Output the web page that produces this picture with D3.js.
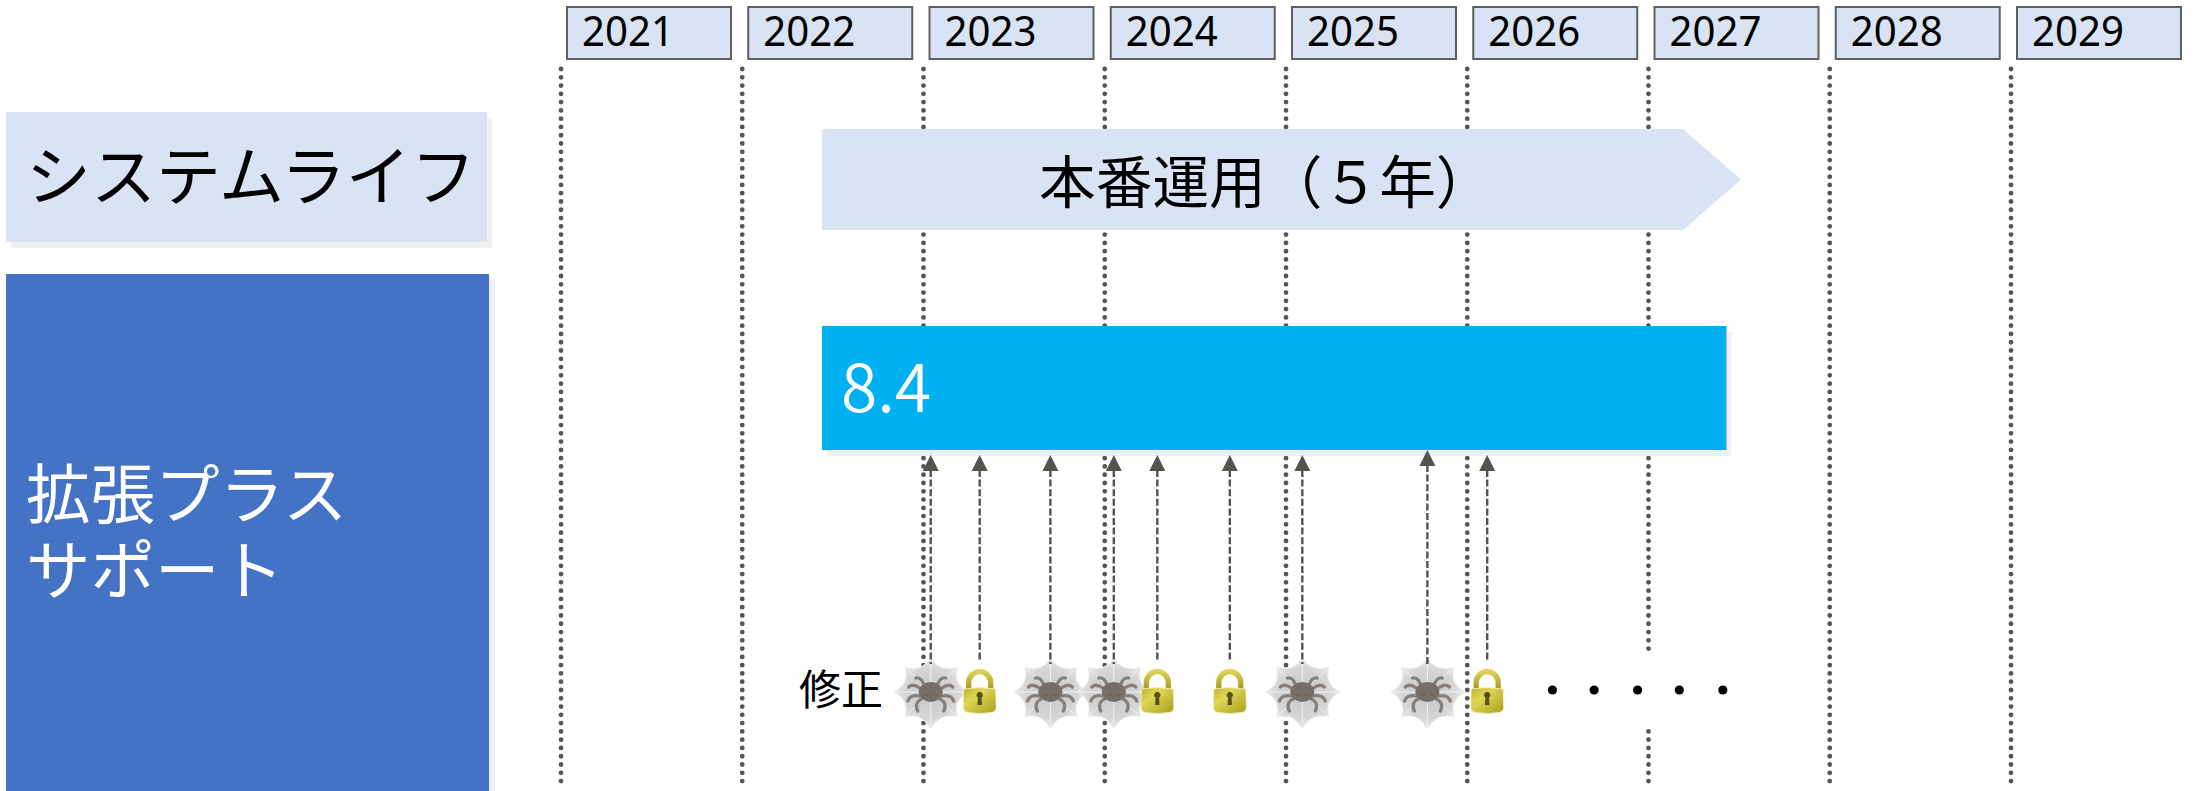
<!DOCTYPE html>
<html lang="ja">
<head>
<meta charset="utf-8">
<script src="https://cdn.jsdelivr.net/npm/d3@7/dist/d3.min.js"></script>
<style>
html,body{margin:0;padding:0;background:#fff}
svg{display:block}
text{font-family:"Noto Sans CJK JP","Noto Sans",sans-serif}
text.year{font-family:"Noto Sans",sans-serif}
</style>
</head>
<body>
<svg id="chart" width="2200" height="791"></svg>
<script>
// Calendar years along the top of the roadmap
const years = [2021, 2022, 2023, 2024, 2025, 2026, 2027, 2028, 2029];

// Left-hand row headings
const rowHeadings = ["システムライフ", ["拡張プラス", "サポート"]];

// Production period, in fractional years (full-width brackets and digit)
const productionLabel = "本番運用\uFF08\uFF15年\uFF09";
const productionStart = 2022.44;
const productionEnd = 2027.51;

// Extended support bar for the product version
const versionLabel = "8.4";
const versionStart = 2022.44;
const versionEnd = 2027.43;

// Fixes shipped during support: date and kind
const fixDates = [2023.04, 2023.31, 2023.70, 2024.05, 2024.29, 2024.69, 2025.09, 2025.78, 2026.11];
const fixKinds = ["bug", "lock", "bug", "bug", "lock", "lock", "bug", "bug", "lock"];
const fixLabel = "修正";

// Ellipsis marks: further fixes continue after the last one
const moreDates = [2026.47, 2026.70, 2026.94, 2027.17, 2027.41];

const svg = d3.select("#chart");
const x = d3.scaleLinear().domain([2021, 2029]).range([561, 2011]);

const defs = svg.append("defs");

// Spider-on-web icon, drawn around its own origin
const webGrad = defs.append("radialGradient").attr("id", "webFill");
webGrad.append("stop").attr("offset", "0%").attr("stop-color", "#c6c6c6");
webGrad.append("stop").attr("offset", "70%").attr("stop-color", "#d6d6d6");
webGrad.append("stop").attr("offset", "100%").attr("stop-color", "#e8e8e8");

const bug = defs.append("g").attr("id", "bugIcon");
const spikes = [[-37,0],[-26,-25],[0,-34],[27,-25],[38,0],[27,25],[0,37],[-26,25]];
const webPath = d3.path();
spikes.forEach((p, i) => {
  const q = spikes[(i + 1) % spikes.length];
  if (i === 0) webPath.moveTo(p[0], p[1]);
  webPath.quadraticCurveTo((p[0] + q[0]) * 0.33, (p[1] + q[1]) * 0.33, q[0], q[1]);
});
webPath.closePath();
bug.append("path").attr("d", webPath.toString()).attr("fill", "url(#webFill)")
  .attr("stroke", "#f4f4f4").attr("stroke-width", 1);
spikes.forEach(p => {
  bug.append("line").attr("x1", 0).attr("y1", 0).attr("x2", p[0] * 0.95).attr("y2", p[1] * 0.95)
    .attr("stroke", "#f1f1f1").attr("stroke-width", 1);
});
const legs = [
  "M-7,-8Q-10,-15 -15,-14",
  "M-11,-4Q-18,-9 -22,-5",
  "M-11,4Q-20,2 -23,9",
  "M-9,7Q-17,11 -13,19"
];
legs.forEach(d => {
  [1, -1].forEach(side => {
    bug.append("path").attr("d", d).attr("transform", `scale(${side},1)`).attr("fill", "none")
      .attr("stroke", "#8a807b").attr("stroke-width", 3.3).attr("stroke-linecap", "round");
  });
});
bug.append("ellipse").attr("rx", 12).attr("ry", 10).attr("fill", "#776e6a");
["M-7,2Q-4.5,5.5 -2,2", "M2,2Q4.5,5.5 7,2"].forEach(d => {
  bug.append("path").attr("d", d).attr("fill", "none").attr("stroke", "#5d5552").attr("stroke-width", 0.7);
});

// Padlock icon, drawn around its own origin
const lockGrad = defs.append("linearGradient").attr("id", "lockFill")
  .attr("x1", "0").attr("y1", "0").attr("x2", "1").attr("y2", "1");
lockGrad.append("stop").attr("offset", "0%").attr("stop-color", "#bdb22a");
lockGrad.append("stop").attr("offset", "35%").attr("stop-color", "#dfd654");
lockGrad.append("stop").attr("offset", "100%").attr("stop-color", "#a99d1e");
const shackleGrad = defs.append("linearGradient").attr("id", "shackleFill")
  .attr("x1", "0").attr("y1", "0").attr("x2", "0").attr("y2", "1");
shackleGrad.append("stop").attr("offset", "0%").attr("stop-color", "#dcd25a");
shackleGrad.append("stop").attr("offset", "100%").attr("stop-color", "#a3961c");

const lock = defs.append("g").attr("id", "lockIcon");
lock.append("path").attr("d", "M-11,-2V-9A11,11.5 0 0 1 11,-9V-2")
  .attr("fill", "none").attr("stroke", "#fbf9dc").attr("stroke-width", 6.6);
lock.append("path").attr("d", "M-11,-2V-9A11,11.5 0 0 1 11,-9V-2")
  .attr("fill", "none").attr("stroke", "url(#shackleFill)").attr("stroke-width", 5.2);
lock.append("path").attr("d", "M-16,-3Q0,-6 16,-3L16.5,16Q16,20 12,20.5Q0,22.5 -12,20.5Q-16,20 -16.5,16Z")
  .attr("fill", "url(#lockFill)").attr("stroke", "#f5f2c8").attr("stroke-width", 0.8);
lock.append("path").attr("d", "M-1.8,5.5A3,3 0 1 1 1.8,5.5L2.2,13H-2.2Z").attr("fill", "#55501c");

// Dotted year gridlines
svg.append("g").selectAll("line").data(years).join("line")
  .attr("x1", d => x(d)).attr("x2", d => x(d))
  .attr("y1", 69).attr("y2", 782)
  .attr("stroke", "#555555").attr("stroke-width", 4.8)
  .attr("stroke-linecap", "round").attr("stroke-dasharray", "0 8.28");

// Year header boxes
const yearBox = svg.append("g").selectAll("g").data(years).join("g")
  .attr("transform", d => `translate(${x(d) + 6},7)`);
yearBox.append("rect").attr("width", 164).attr("height", 52)
  .attr("fill", "#dae3f3").attr("stroke", "#5f5f5f").attr("stroke-width", 2);
yearBox.append("text").attr("class", "year").attr("x", 15).attr("y", 38.5).attr("font-size", 42)
  .attr("textLength", 92).attr("lengthAdjust", "spacingAndGlyphs")
  .attr("fill", "#000").text(d => d);

// Row heading blocks with their soft offset shadows
const shadowFill = "#f0f0f0";
svg.append("rect").attr("x", 11).attr("y", 118).attr("width", 481).attr("height", 130).attr("fill", shadowFill);
svg.append("rect").attr("x", 6).attr("y", 112).attr("width", 481).attr("height", 130).attr("fill", "#dae3f3");
svg.append("text").attr("x", 26).attr("y", 200).attr("font-size", 65).attr("fill", "#000").text(rowHeadings[0]);

svg.append("rect").attr("x", 489).attr("y", 280).attr("width", 6).attr("height", 511).attr("fill", shadowFill);
svg.append("rect").attr("x", 6).attr("y", 274).attr("width", 483).attr("height", 517).attr("fill", "#4472c4");
svg.append("text").attr("font-size", 64.5).attr("fill", "#fff")
  .selectAll("tspan").data(rowHeadings[1]).join("tspan")
  .attr("x", 26).attr("y", (d, i) => 518 + i * 76).text(d => d);

// Production period arrow
const yMid = 179.5;
const arrowPts = [
  [x(productionStart), 129], [x(productionEnd) - 58, 129],
  [x(productionEnd), yMid], [x(productionEnd) - 58, 230], [x(productionStart), 230]
];
svg.append("path").attr("d", d3.line()(arrowPts) + "Z").attr("fill", "#dae3f3");
svg.append("text").attr("x", 1039).attr("y", 203).attr("font-size", 56.7).attr("fill", "#000").text(productionLabel);

// Version bar
svg.append("rect").attr("x", x(versionStart) + 5).attr("y", 332)
  .attr("width", x(versionEnd) - x(versionStart)).attr("height", 124).attr("fill", shadowFill);
svg.append("rect").attr("x", x(versionStart)).attr("y", 326)
  .attr("width", x(versionEnd) - x(versionStart)).attr("height", 124).attr("fill", "#00b0f0");
svg.append("text").attr("x", 841).attr("y", 412).attr("font-size", 66).attr("font-weight", 350)
  .attr("fill", "#fff").text(versionLabel);

// Fix row: a panel masks the 2027 gridline behind the ellipsis
svg.append("rect").attr("x", 1540).attr("y", 652).attr("width", 190).attr("height", 76).attr("fill", "#fff");
svg.append("text").attr("x", 799).attr("y", 705).attr("font-size", 42).attr("fill", "#000").text(fixLabel);

const fixes = fixDates.map((date, i) => ({date, kind: fixKinds[i], raised: i === 7}));

// Icons first, so the arrows sit over their top edges
svg.append("g").selectAll("use").data(fixes).join("use")
  .attr("href", d => d.kind === "bug" ? "#bugIcon" : "#lockIcon")
  .attr("x", d => x(d.date)).attr("y", 692);

// Arrows from each fix up to the version bar
const arrowColour = "#55534d";
const tipY = d => d.raised ? 450 : 455;
const arrows = svg.append("g").selectAll("g").data(fixes).join("g");
arrows.append("line")
  .attr("x1", d => x(d.date)).attr("x2", d => x(d.date))
  .attr("y1", d => tipY(d) + 15).attr("y2", d => d.kind === "bug" ? 664 : 662)
  .attr("stroke", arrowColour).attr("stroke-width", 2.4).attr("stroke-dasharray", "7 2.6");
arrows.append("path")
  .attr("d", d => d3.line()([[x(d.date), tipY(d)], [x(d.date) + 8, tipY(d) + 16], [x(d.date) - 8, tipY(d) + 16]]) + "Z")
  .attr("fill", arrowColour);

// Ellipsis dots
svg.append("g").selectAll("circle").data(moreDates).join("circle")
  .attr("cx", d => x(d)).attr("cy", 690).attr("r", 4.6).attr("fill", "#000");
</script>
</body>
</html>
